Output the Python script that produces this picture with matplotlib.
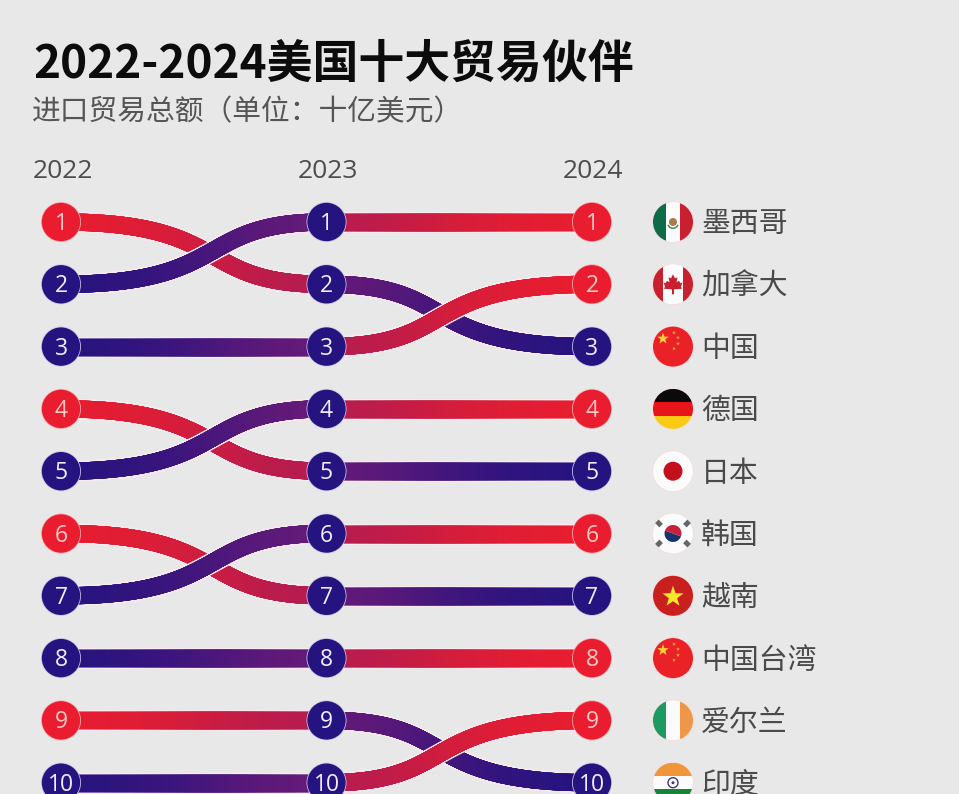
import numpy as np
import matplotlib
matplotlib.use("Agg")
import matplotlib.pyplot as plt
from matplotlib.collections import LineCollection
from matplotlib.colors import to_rgb
from matplotlib.patches import Circle, Polygon, Rectangle, Wedge

plt.rcParams['font.family'] = ['Noto Sans CJK SC', 'DejaVu Sans']

years = [2022, 2023, 2024]
ranks_2022 = [2, 1, 3, 5, 4, 7, 6, 8, 10, 9]
ranks_2023 = [1, 2, 3, 4, 5, 6, 7, 8, 10, 9]
ranks_2024 = [1, 3, 2, 4, 5, 6, 7, 8, 9, 10]
starts_red = [False, True, False, False, True, False, True, False, False, True]
countries = ['墨西哥', '加拿大', '中国', '德国', '日本', '韩国', '越南', '中国台湾', '爱尔兰', '印度']

RED = '#e91d2f'
CRIMSON = '#b41c50'
PURPLE = '#661a78'
NAVY = '#25137f'
BG = '#e8e8e8'
INK = '#4a4a4a'


def px(year):
    return 61 + (year - 2022) * 265.5


def py(rank):
    return 222 + (rank - 1) * 62.3


def ribbon(ax, x0, y0, x1, y1, c0, c1, z, ctrl):
    # cubic bezier with flat ends, coloured bit by bit along x
    t = np.linspace(0, 1, 160)
    xs = x0 + (x1 - x0) * (3 * (1 - t) ** 2 * t * ctrl[0] + 3 * (1 - t) * t ** 2 * ctrl[1] + t ** 3)
    ys = y0 + (y1 - y0) * (3 * (1 - t) * t ** 2 + t ** 3)
    ax.plot(xs, ys, color='#fbeaf2', lw=15, solid_capstyle='butt', zorder=z)
    pts = np.column_stack([xs, ys])
    segs = np.stack([pts[:-1], pts[1:]], axis=1)
    a, b = np.array(to_rgb(c0)), np.array(to_rgb(c1))
    cols = [a + (b - a) * v for v in t[:-1]]
    ax.add_collection(LineCollection(segs, colors=cols, linewidths=12.4, capstyle='projecting', zorder=z + 0.1))


def node(ax, x, y, rank, red):
    edge = '#f7b0b0' if red else '#c9c4ea'
    ax.add_patch(Circle((x, y), 20, fc=edge, ec='none', zorder=20))
    ax.add_patch(Circle((x, y), 19.2, fc=RED if red else NAVY, ec='none', zorder=21))
    ax.text(x, y + 2, str(rank), color='#ffc9c2' if red else '#f0eeff', fontsize=16.5, family='Open Sans',
            ha='center', va='center', zorder=22)


def star(ax, x, y, r, color, clip, rot=0.0):
    ang = np.deg2rad(-90 + rot) + np.arange(10) * np.pi / 5
    rad = np.where(np.arange(10) % 2 == 0, r, r * 0.4)
    p = Polygon(np.column_stack([x + rad * np.cos(ang), y + rad * np.sin(ang)]), fc=color, ec='none', zorder=12)
    ax.add_patch(p)
    p.set_clip_path(clip)


def stripes(ax, x, y, r, clip, colors, vertical=True):
    n = len(colors)
    for i, c in enumerate(colors):
        if vertical:
            p = Rectangle((x - r + 2 * r * i / n, y - r), 2 * r / n + 0.5, 2 * r, fc=c, ec='none', zorder=11)
        else:
            p = Rectangle((x - r, y - r + 2 * r * i / n), 2 * r, 2 * r / n + 0.5, fc=c, ec='none', zorder=11)
        ax.add_patch(p)
        p.set_clip_path(clip)


def china_flag(ax, x, y, clip):
    ax.add_patch(Circle((x, y), 20, fc='#ea2227', ec='none', zorder=11))
    star(ax, x - 10, y - 8, 6, '#fbd23a', clip)
    for dx, dy in [(1, -14), (5, -9), (5, -3), (1, 2)]:
        star(ax, x + dx, y + dy, 2, '#f7a83a', clip)


def draw_flag(ax, name, x, y):
    r = 20
    ax.add_patch(Circle((x, y), r + 0.8, fc='#f6dcdc', ec='none', zorder=10))
    clip = Circle((x, y), r, transform=ax.transData)
    if name == '墨西哥':
        stripes(ax, x, y, r, clip, ['#0d6b47', '#fbfbfb', '#c8202f'])
        ax.add_patch(Circle((x, y), 4, fc='#a87a4c', ec='none', zorder=12))
        ax.add_patch(Wedge((x, y + 1), 6, 20, 160, width=1.5, fc='#3f8a5a', ec='none', zorder=12))
    elif name == '加拿大':
        stripes(ax, x, y, r, clip, ['#c8202f', '#fbfbfb', '#fbfbfb', '#c8202f'])
        leaf = [(0, -10), (2, -6), (4.5, -7), (3.5, -2), (6, -3.5), (7.5, -1), (9.5, -2), (8, 2.5), (9, 4.5), (1, 5),
                (1, 10), (-1, 10), (-1, 5), (-9, 4.5), (-8, 2.5), (-9.5, -2), (-7.5, -1), (-6, -3.5), (-3.5, -2),
                (-4.5, -7), (-2, -6)]
        ax.add_patch(Polygon([(x + a, y + b) for a, b in leaf], fc='#c8202f', ec='none', zorder=12))
    elif name in ('中国', '中国台湾'):
        china_flag(ax, x, y, clip)
    elif name == '德国':
        stripes(ax, x, y, r, clip, ['#0a0a0a', '#e8141c', '#fbcb14'], vertical=False)
    elif name == '日本':
        ax.add_patch(Circle((x, y), r, fc='#fbfbfb', ec='none', zorder=11))
        ax.add_patch(Circle((x, y), 9.5, fc='#c4101c', ec='none', zorder=12))
    elif name == '韩国':
        ax.add_patch(Circle((x, y), r, fc='#fbfbfb', ec='none', zorder=11))
        ax.add_patch(Wedge((x, y), 8.5, 20, 200, fc='#17336e', ec='none', zorder=12))
        ax.add_patch(Wedge((x, y), 8.5, 200, 380, fc='#c5203c', ec='none', zorder=12))
        for sx, sy in [(-1, -1), (1, -1), (-1, 1), (1, 1)]:
            ang = 45 * sx * sy
            bar = Rectangle((x + sx * 14 - 3, y + sy * 10 - 2.5), 6, 5, angle=ang, rotation_point='center',
                            fc='#666666', ec='none', zorder=12)
            ax.add_patch(bar)
    elif name == '越南':
        ax.add_patch(Circle((x, y), r, fc='#c9201f', ec='none', zorder=11))
        star(ax, x, y + 1, 11, '#fbe62e', clip)
    elif name == '爱尔兰':
        stripes(ax, x, y, r, clip, ['#1c9a62', '#fbfbfb', '#ee9748'])
    elif name == '印度':
        stripes(ax, x, y, r, clip, ['#ee9638', '#fbfbfb', '#17823a'], vertical=False)
        ax.add_patch(Circle((x, y), 5, fc='none', ec='#3b3a85', lw=1.0, zorder=12))
        ax.add_patch(Circle((x, y), 1.5, fc='#3b3a85', ec='none', zorder=12))


def main():
    fig = plt.figure(figsize=(9.59, 7.94), dpi=100, facecolor=BG)
    ax = fig.add_axes([0, 0, 1, 1])
    ax.set_xlim(0, 959)
    ax.set_ylim(794, 0)
    ax.axis('off')

    ax.text(33, 65, '2022-2024美国十大贸易伙伴', fontsize=33, fontweight='bold', color='#0c0c0c', va='center')
    ax.text(32, 112, '进口贸易总额（单位：十亿美元）', fontsize=20.7, color='#555555', va='center')
    for y, nudge in zip(years, [2, 1, 0.5]):
        ax.text(px(y) + nudge, 172, str(y), fontsize=19, family='Open Sans', color='#4d4d4d', ha='center', va='center')

    # rising ribbons sit on top at the crossings
    for i in range(len(countries)):
        r0, r1, r2 = ranks_2022[i], ranks_2023[i], ranks_2024[i]
        if starts_red[i]:
            c = [RED, CRIMSON, PURPLE, NAVY]
        else:
            c = [NAVY, PURPLE, CRIMSON, RED]
        z0 = 3 if r1 > r0 else 5
        z1 = 3 if r2 > r1 else 5
        # the s-bends lean towards the 2023 column
        ribbon(ax, px(2022), py(r0), px(2023), py(r1), c[0], c[1], z0, (0.65, 0.5))
        ribbon(ax, px(2023), py(r1), px(2024), py(r2), c[2], c[3], z1, (0.5, 0.34))
        node(ax, px(2022), py(r0), r0, starts_red[i])
        node(ax, px(2023), py(r1), r1, False)
        node(ax, px(2024), py(r2), r2, not starts_red[i])

    # country names and flags follow the 2024 rank
    for i, name in enumerate(countries):
        y = py(i + 1)
        draw_flag(ax, name, 673, y)
        ax.text(701, y + 2.5, name, fontsize=20.8, color=INK, va='center')

    fig.savefig('out.png', dpi=100, facecolor=BG)


if __name__ == "__main__":
    main()
